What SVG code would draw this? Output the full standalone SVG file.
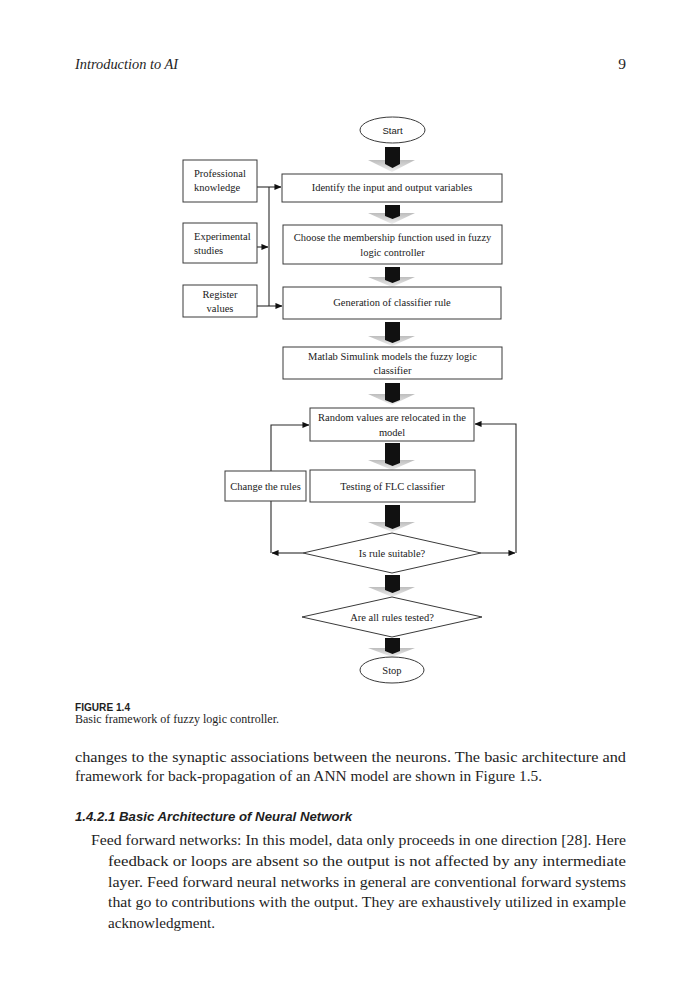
<svg xmlns="http://www.w3.org/2000/svg" width="700" height="1000" viewBox="0 0 700 1000">
<style>
.bg{fill:#fff}
.box{fill:#fff;stroke:#3a3a3a;stroke-width:1}
.ln{fill:none;stroke:#2a2a2a;stroke-width:1.1}
.blk{fill:#111}
.gry{fill:url(#gg)}
.t{font-family:"Liberation Serif","Times New Roman",serif;font-size:10.5px;fill:#1a1a1a}
.c{text-anchor:middle}
.ss{font-family:"Liberation Sans",Arial,sans-serif;font-size:9.5px;fill:#1a1a1a;text-anchor:middle}
.body{font-family:"Liberation Serif","Times New Roman",serif;font-size:15.5px;fill:#1e1e1e}
.hdr{font-family:"Liberation Serif","Times New Roman",serif;font-size:14.5px;font-style:italic;fill:#1e1e1e}
.fig{font-family:"Liberation Sans",Arial,sans-serif;font-size:10.5px;font-weight:bold;fill:#1e1e1e}
.cap{font-family:"Liberation Serif","Times New Roman",serif;font-size:12px;fill:#1e1e1e}
.sec{font-family:"Liberation Sans",Arial,sans-serif;font-size:13.5px;font-weight:bold;font-style:italic;fill:#1e1e1e}
</style>
<defs>
<linearGradient id="gg" x1="0" y1="0" x2="0" y2="1">
<stop offset="0" stop-color="#bdbdbd"/>
<stop offset="1" stop-color="#efefef"/>
</linearGradient>
<marker id="ah" viewBox="0 0 8 8" refX="7.5" refY="4" markerWidth="7" markerHeight="7" markerUnits="userSpaceOnUse" orient="auto">
<path d="M0,0.5 L8,4 L0,7.5 Z" fill="#111"/>
</marker>
</defs>
<rect class="bg" x="0" y="0" width="700" height="1000"/>

<text class="hdr" x="75" y="69" textLength="103" lengthAdjust="spacingAndGlyphs">Introduction to AI</text>
<text class="body" x="626" y="69" text-anchor="end">9</text>

<g id="connectors">
<path class="ln" d="M257,187 H281" marker-end="url(#ah)"/>
<path class="ln" d="M269,187 V306"/>
<path class="ln" d="M257,247 H268" marker-end="url(#ah)"/>
<path class="ln" d="M257,306 H282" marker-end="url(#ah)"/>
<path class="ln" d="M303,553 H272" marker-end="url(#ah)"/>
<path class="ln" d="M271,553 V425 H309" marker-end="url(#ah)"/>
<path class="ln" d="M481,553 H515" marker-end="url(#ah)"/>
<path class="ln" d="M516,553 V424 H475" marker-end="url(#ah)"/>
<g id="block-arrows">
<polygon class="gry" points="368,160 415,160 392,172"/><polygon class="blk" points="385,147 400,147 400,164 392.5,168 385,164"/>
<polygon class="gry" points="368,213 415,213 392,224"/><polygon class="blk" points="385,205 400,205 400,216 392.5,219 385,216"/>
<polygon class="gry" points="368,277 415,277 392,287"/><polygon class="blk" points="385,267 400,267 400,280 392.5,283 385,280"/>
<polygon class="gry" points="368,336 415,336 392,346"/><polygon class="blk" points="385,322 400,322 400,340 392.5,343 385,340"/>
<polygon class="gry" points="368,394 415,394 392,405"/><polygon class="blk" points="385,383 400,383 400,400 392.5,403 385,400"/>
<polygon class="gry" points="368,460 415,460 392,470"/><polygon class="blk" points="385,443 400,443 400,463 392.5,466 385,463"/>
<polygon class="gry" points="368,522 415,522 392,532"/><polygon class="blk" points="385,505 400,505 400,526 392.5,529 385,526"/>
<polygon class="gry" points="368,587 415,587 392,597"/><polygon class="blk" points="385,575 400,575 400,590 392.5,593 385,590"/>
<polygon class="gry" points="368,648 415,648 392,657"/><polygon class="blk" points="385,638 400,638 400,651 392.5,654 385,651"/>
</g>
</g>

<g id="start">
<ellipse class="box" cx="392.5" cy="130" rx="32.5" ry="13"/>
<text class="ss" x="392.5" y="133.5">Start</text>
</g>
<g id="professional">
<rect class="box" x="183" y="160" width="74" height="42"/>
<text class="t" x="194" y="177">Professional</text>
<text class="t" x="194" y="191">knowledge</text>
</g>
<g id="identify">
<rect class="box" x="282" y="174" width="220" height="28"/>
<text class="t c" x="392" y="191">Identify the input and output variables</text>
</g>
<g id="experimental">
<rect class="box" x="183" y="223" width="74" height="40"/>
<text class="t" x="194" y="240">Experimental</text>
<text class="t" x="194" y="254">studies</text>
</g>
<g id="choose">
<rect class="box" x="283" y="225" width="219" height="39"/>
<text class="t c" x="392.5" y="241">Choose the membership function used in fuzzy</text>
<text class="t c" x="392.5" y="256">logic controller</text>
</g>
<g id="register">
<rect class="box" x="183" y="285" width="74" height="32"/>
<text class="t c" x="220" y="298">Register</text>
<text class="t c" x="220" y="312">values</text>
</g>
<g id="generation">
<rect class="box" x="283" y="287" width="218" height="32"/>
<text class="t c" x="392" y="306">Generation of classifier rule</text>
</g>
<g id="matlab">
<rect class="box" x="283" y="347" width="219" height="32"/>
<text class="t c" x="392.5" y="360">Matlab Simulink models the fuzzy logic</text>
<text class="t c" x="392.5" y="374">classifier</text>
</g>
<g id="random">
<rect class="box" x="310" y="408" width="164" height="33"/>
<text class="t c" x="392" y="421">Random values are relocated in the</text>
<text class="t c" x="392" y="436">model</text>
</g>
<g id="change">
<rect class="box" x="225" y="471" width="81" height="30"/>
<text class="t c" x="265.5" y="490">Change the rules</text>
</g>
<g id="testing">
<rect class="box" x="310" y="470" width="165" height="32"/>
<text class="t c" x="392.5" y="490">Testing of FLC classifier</text>
</g>
<g id="suitable">
<polygon class="box" points="392,533 481,553 392,573 303,553"/>
<text class="t c" x="392" y="557">Is rule suitable?</text>
</g>
<g id="tested">
<polygon class="box" points="392,597 482,617 392,637 302,617"/>
<text class="t c" x="392" y="621">Are all rules tested?</text>
</g>
<g id="stop">
<ellipse class="box" cx="392" cy="670" rx="32" ry="13"/>
<text class="t c" x="392" y="674">Stop</text>
</g>

<text class="fig" x="75" y="711" textLength="55" lengthAdjust="spacingAndGlyphs">FIGURE 1.4</text>
<text class="cap" x="75" y="723" textLength="204" lengthAdjust="spacingAndGlyphs">Basic framework of fuzzy logic controller.</text>

<text class="body" x="75" y="762" textLength="551" lengthAdjust="spacingAndGlyphs">changes to the synaptic associations between the neurons. The basic architecture and</text>
<text class="body" x="75" y="781" textLength="467" lengthAdjust="spacingAndGlyphs">framework for back-propagation of an ANN model are shown in Figure 1.5.</text>

<text class="sec" x="75" y="821" textLength="277" lengthAdjust="spacingAndGlyphs">1.4.2.1  Basic Architecture of Neural Network</text>

<text class="body" x="91" y="845" textLength="535" lengthAdjust="spacingAndGlyphs">Feed forward networks: In this model, data only proceeds in one direction [28]. Here</text>
<text class="body" x="108" y="866" textLength="518" lengthAdjust="spacingAndGlyphs">feedback or loops are absent so the output is not affected by any intermediate</text>
<text class="body" x="108" y="887" textLength="518" lengthAdjust="spacingAndGlyphs">layer. Feed forward neural networks in general are conventional forward systems</text>
<text class="body" x="108" y="907" textLength="518" lengthAdjust="spacingAndGlyphs">that go to contributions with the output. They are exhaustively utilized in example</text>
<text class="body" x="108" y="928" textLength="107" lengthAdjust="spacingAndGlyphs">acknowledgment.</text>
</svg>
